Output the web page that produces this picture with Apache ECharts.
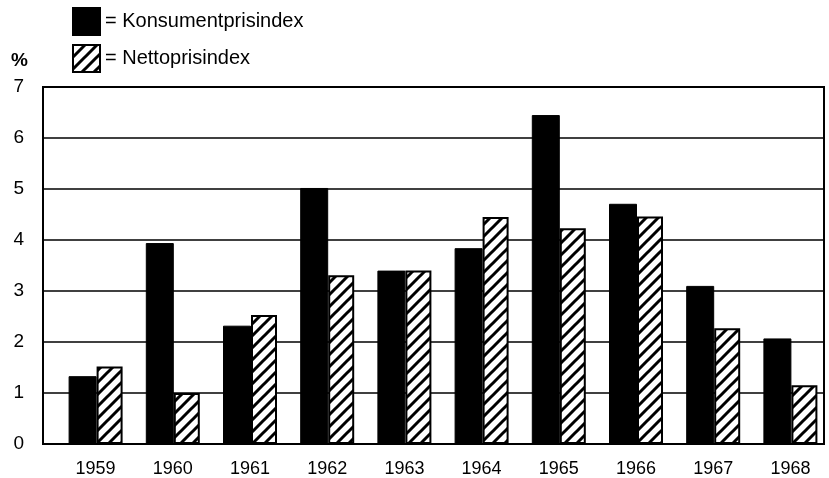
<!DOCTYPE html>
<html><head><meta charset="utf-8">
<script src="https://cdn.jsdelivr.net/npm/echarts@6/dist/echarts.min.js"></script>
<style>html,body{margin:0;padding:0;background:#fff}#c{width:829px;height:478px}</style>
</head><body><div id="c"></div>
<script>
const years = ['1959','1960','1961','1962','1963','1964','1965','1966','1967','1968'];
const konsument = [1.33, 3.94, 2.32, 5.02, 3.40, 3.84, 6.45, 4.71, 3.10, 2.07];
const netto = [1.52, 1.0, 2.53, 3.31, 3.40, 4.45, 4.23, 4.46, 2.27, 1.15];
const yTicks = [0, 1, 2, 3, 4, 5, 6, 7];
const seriesNames = ['Konsumentprisindex', 'Nettoprisindex'];

function hatch(){
  const s = 12;
  const c = document.createElement('canvas');
  c.width = c.height = s;
  const g = c.getContext('2d');
  g.fillStyle = '#fff'; g.fillRect(0,0,s,s);
  g.strokeStyle = '#000'; g.lineWidth = 3;
  g.beginPath();
  g.moveTo(-2, s+2); g.lineTo(s+2, -2);
  g.moveTo(-3, 3); g.lineTo(3, -3);
  g.moveTo(s-3, s+3); g.lineTo(s+3, s-3);
  g.stroke();
  return c;
}
const pattern = {image: hatch(), repeat: 'repeat'};
const font = 'Liberation Sans';

const chart = echarts.init(document.getElementById('c'), null, {renderer: 'canvas'});
chart.setOption({
  animation: false,
  backgroundColor: '#fff',
  textStyle: {fontFamily: font, color: '#000'},
  legend: {
    orient: 'vertical', left: 72, top: 7, padding: 0, itemWidth: 27, itemHeight: 27, itemGap: 8,
    icon: 'rect',
    data: seriesNames,
    formatter: n => '= ' + n,
    textStyle: {fontFamily: font, fontSize: 20, color: '#000'}
  },
  graphic: [{type: 'text', left: 11, top: 51, style: {text: '%', font: 'bold 19px ' + font, fill: '#000'}}],
  grid: [
    {left: 43, right: 5, top: 87, bottom: 34, show: true, borderColor: '#000', borderWidth: 2, backgroundColor: 'transparent'},
    {left: 57, right: 0, top: 87, bottom: 34}
  ],
  xAxis: [
    {type: 'value', gridIndex: 0, min: 0, max: 1, show: false},
    {type: 'category', gridIndex: 1, data: years,
     axisLine: {show: false}, axisTick: {show: false},
     axisLabel: {fontFamily: font, fontSize: 18, color: '#000', margin: 16}}
  ],
  yAxis: [
    {type: 'value', gridIndex: 0, min: 0, max: 7, interval: 1,
     axisLine: {show: true, lineStyle: {color: '#000', width: 2}},
     axisTick: {show: false},
     axisLabel: {fontFamily: font, fontSize: 19, color: '#000', margin: 19,
       formatter: v => yTicks.includes(v) ? String(v) : ''},
     splitLine: {show: true, lineStyle: {color: '#000', width: 1.6}}},
    {type: 'value', gridIndex: 1, min: 0, max: 7, show: false}
  ],
  series: [
    {name: seriesNames[0], type: 'bar', xAxisIndex: 1, yAxisIndex: 1, data: konsument,
     barWidth: 28, barGap: '0%',
     itemStyle: {color: '#000', borderColor: '#000', borderWidth: 1}},
    {name: seriesNames[1], type: 'bar', xAxisIndex: 1, yAxisIndex: 1, data: netto,
     barWidth: 26,
     itemStyle: {color: pattern, borderColor: '#000', borderWidth: 2}}
  ]
});
</script>
</body></html>
